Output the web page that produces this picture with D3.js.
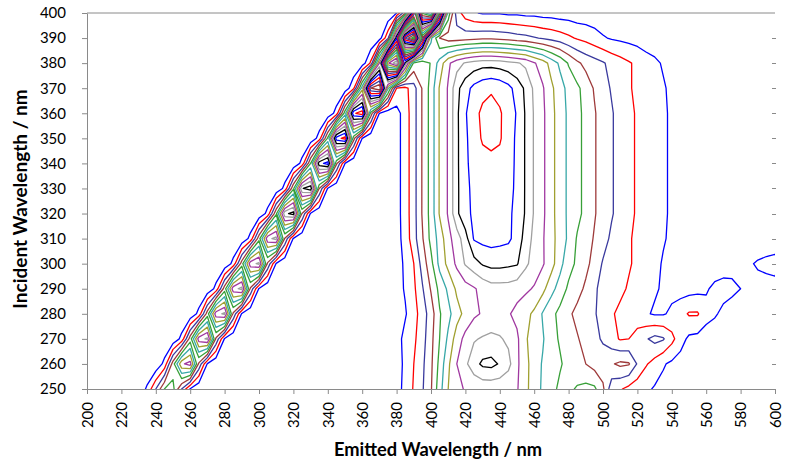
<!DOCTYPE html>
<html><head><meta charset="utf-8">
<script src="https://cdn.jsdelivr.net/npm/d3@7"></script>
<style>
html,body{margin:0;padding:0;background:#fff;}
svg{display:block;}
text{font-family:Lato,"Open Sans",sans-serif;fill:#000;}
</style></head><body>
<svg id="chart" width="787" height="462"></svg>
<script>
// ---- data (intensities x10; contour levels every 10) ----
const emissionStart = 200, emissionStep = 5, emissionEnd = 600;
const excitation = [250,260,270,280,290,300,310,320,330,340,350,360,370,380,390,400];
const fluorStart = 375; // first emission column of the fluorescence rows
const fluorescence = [
 [2,6,13,21,29,39,56,70,77,81,82,83,83,83,82,81,72,66,58,53,48,48,51,53,52,42,24,21,17,14,12,9,7,5,4,3,3,2,2,2,1,1,1,1,1,1],
 [2,6,12,20,28,38,53,68,80,88,96,102,103,99,93,82,73,65,59,55,51,47,44,40,36,34,39,42,41,29,21,16,11,8,6,5,4,4,3,3,2,2,2,2,2,2],
 [2,6,13,18,26,37,50,62,75,83,89,91,92,91,88,82,71,66,61,53,49,46,41,36,32,29,24,19,20,25,29,33,31,23,14,8,7,6,5,5,4,3,3,3,2,2],
 [2,5,9,16,25,35,49,57,66,73,78,81,84,83,81,77,73,68,59,53,47,42,37,34,31,26,21,18,15,13,11,9,9,12,16,21,21,13,11,8,6,6,5,5,5,5],
 [2,6,11,18,29,41,53,62,72,76,79,83,86,86,86,84,82,79,73,63,56,48,44,38,31,28,25,22,19,16,14,11,9,7,6,6,7,9,12,13,12,10,7,7,7,7],
 [2,5,12,20,34,47,63,73,82,91,96,101,103,103,102,101,92,86,81,74,63,54,48,43,36,29,27,24,21,18,15,13,9,8,6,5,5,5,5,6,7,8,9,11,12,13],
 [2,6,14,26,39,53,64,77,85,96,111,113,114,113,112,106,96,87,81,73,66,58,49,45,39,34,28,25,21,18,16,13,11,8,7,5,4,4,3,3,3,3,3,4,5,5],
 [2,6,15,26,41,54,71,81,98,107,112,115,116,115,112,107,99,89,82,73,65,58,53,47,41,35,31,26,22,19,17,14,11,9,7,5,4,3,3,2,2,2,2,2,2,2],
 [2,6,15,26,41,54,71,81,98,107,113,116,117,116,113,108,99,89,82,73,65,58,53,47,41,35,31,26,22,19,17,14,11,9,7,5,4,3,2,2,1,1,1,1,1,1],
 [2,6,15,26,41,54,71,81,98,108,114,117,118,117,114,108,99,89,82,73,65,58,53,47,41,35,31,26,22,19,17,14,11,9,7,5,4,3,2,2,1,1,1,1,1,1],
 [2,6,15,26,41,54,71,81,98,108,116,121,122,121,115,108,99,89,82,73,65,58,53,47,41,35,31,26,22,19,17,14,11,9,7,5,4,3,2,2,1,1,1,1,1,1],
 [2,6,15,26,41,54,71,81,98,109,117,122,123,121,116,109,99,89,82,73,65,58,53,47,41,35,31,26,22,19,17,14,11,9,7,5,4,3,2,2,1,1,1,1,1,1],
 [2,6,15,26,41,54,71,81,97,106,113,117,119,117,113,106,98,88,81,72,64,57,52,46,39,34,29,25,21,18,16,13,11,8,6,5,4,3,2,2,1,1,1,1,1,1],
 [3,8,17,27,38,51,64,78,86,91,94,96,96,95,93,91,88,81,75,66,58,49,42,37,34,31,27,24,21,18,14,12,9,7,5,4,3,3,2,2,1,1,1,1,1,1],
 [2,8,15,22,28,32,34,35,35,36,37,38,38,37,36,34,33,31,29,27,25,22,19,17,14,11,9,8,7,6,5,4,3,3,2,2,1,1,1,1,1,1,1,1,0,0],
 [1,4,8,10,12,14,15,16,17,15,11,9,9,9,8,8,7,7,6,6,5,5,4,4,4,3,3,3,3,2,2,2,2,2,2,1,1,1,1,1,1,1,1,0,0,0]
];
// Rayleigh scatter band: values at emission = excitation + offset
const scatterOffsets = [-20,-15,-10,-5,0,5,10,15];
const scatter = [
 [2,12,30,50,53,30,9,1],
 [2,13,45,78,84,38,9,1],
 [2,13,45,85,92,38,9,1],
 [2,13,45,86,92,38,9,1],
 [2,13,45,86,93,38,9,1],
 [2,13,45,86,92,38,9,1],
 [2,13,46,87,93,39,9,1],
 [2,13,48,97,104,40,9,1],
 [2,13,48,99,106,40,9,1],
 [2,13,50,106,114,42,10,1],
 [2,14,52,115,124,44,10,1],
 [2,14,55,118,126,46,10,1],
 [3,18,65,140,150,60,14,2],
 [4,22,80,175,190,80,20,4],
 [5,26,100,215,235,110,30,6],
 [6,30,110,240,260,130,40,8]
];
const levels = d3.range(10, 261, 10);
const lineColors = ['#0000ff','#ff0000','#3a3a9e','#9e3a3a','#38a038','#38a8a8','#a0a030','#a038a0','#a0a0a0','#000000'];
const xTicks = d3.range(200, 601, 20);
const yTicks = d3.range(250, 401, 10);

// ---- grid assembly ----
const nx = (emissionEnd - emissionStart) / emissionStep + 1;
const ny = excitation.length;
const grid = new Array(nx * ny).fill(0);
const f0 = (fluorStart - emissionStart) / emissionStep;
excitation.forEach((ex, j) => {
  fluorescence[j].forEach((v, i) => { grid[j * nx + f0 + i] += v; });
  scatterOffsets.forEach((o, i) => {
    const c = (ex + o - emissionStart) / emissionStep;
    if (c >= 0 && c < nx) grid[j * nx + c] += scatter[j][i];
  });
});

// ---- layout ----
const mLeft = 87, mRight = 775, mTop = 13, mBottom = 389;
const x = d3.scaleLinear([200, 600], [mLeft, mRight]);
const y = d3.scaleLinear([250, 400], [mBottom, mTop]);
const svg = d3.select('#chart');
const axisColor = '#8a8a8a';

svg.append('defs').append('clipPath').attr('id', 'plotclip')
  .append('rect').attr('x', mLeft).attr('y', mTop).attr('width', mRight - mLeft).attr('height', mBottom - mTop);

const exStep = excitation[1] - excitation[0];
const proj = d3.geoTransform({
  point(gx, gy) {
    const em = emissionStart + (gx - 0.5) * emissionStep;
    const ex = excitation[0] + (gy - 0.5) * exStep;
    this.stream.point(x(em), y(ex));
  }
});
const path = d3.geoPath(proj);
const contours = d3.contours().size([nx, ny]).thresholds(levels)(grid);

svg.append('g').attr('clip-path', 'url(#plotclip)')
  .selectAll('path').data(contours).join('path')
  .attr('d', path)
  .attr('fill', 'none')
  .attr('stroke', (d, i) => lineColors[i % lineColors.length])
  .attr('stroke-width', 1.3)
  .attr('stroke-linejoin', 'round');

// frame: top line and right-side tick marks
svg.append('line').attr('x1', mLeft).attr('x2', mRight).attr('y1', mTop).attr('y2', mTop)
  .attr('stroke', axisColor).attr('stroke-width', 1);
svg.append('g').selectAll('line').data(yTicks.slice(1, -1)).join('line')
  .attr('x1', mRight - 3).attr('x2', mRight + 1)
  .attr('y1', d => Math.round(y(d)) + 0.5).attr('y2', d => Math.round(y(d)) + 0.5)
  .attr('stroke', axisColor);

// axes
const gX = svg.append('g').attr('transform', `translate(0,${mBottom})`)
  .call(d3.axisBottom(x).tickValues(xTicks).tickSize(5).tickSizeOuter(0).tickFormat(d3.format('d')));
gX.selectAll('text')
  .attr('transform', 'rotate(-90)')
  .attr('text-anchor', 'end')
  .attr('x', -13).attr('y', 0).attr('dy', '0.35em')
  .style('font-size', '15px');
const gY = svg.append('g').attr('transform', `translate(${mLeft},0)`)
  .call(d3.axisLeft(y).tickValues(yTicks).tickSize(5).tickSizeOuter(0).tickPadding(16).tickFormat(d3.format('d')));
gY.selectAll('text').style('font-size', '15px');
[gX, gY].forEach(g => {
  g.select('.domain').attr('stroke', axisColor);
  g.selectAll('.tick line').attr('stroke', axisColor);
});

svg.append('text').attr('transform', `translate(27,199) rotate(-90)`)
  .attr('text-anchor', 'middle').style('font-weight', 'bold').style('font-size', '19px')
  .text('Incident Wavelength / nm');
svg.append('text').attr('x', 438).attr('y', 456)
  .attr('text-anchor', 'middle').style('font-weight', 'bold').style('font-size', '18.3px')
  .text('Emitted Wavelength / nm');
</script>
</body></html>
